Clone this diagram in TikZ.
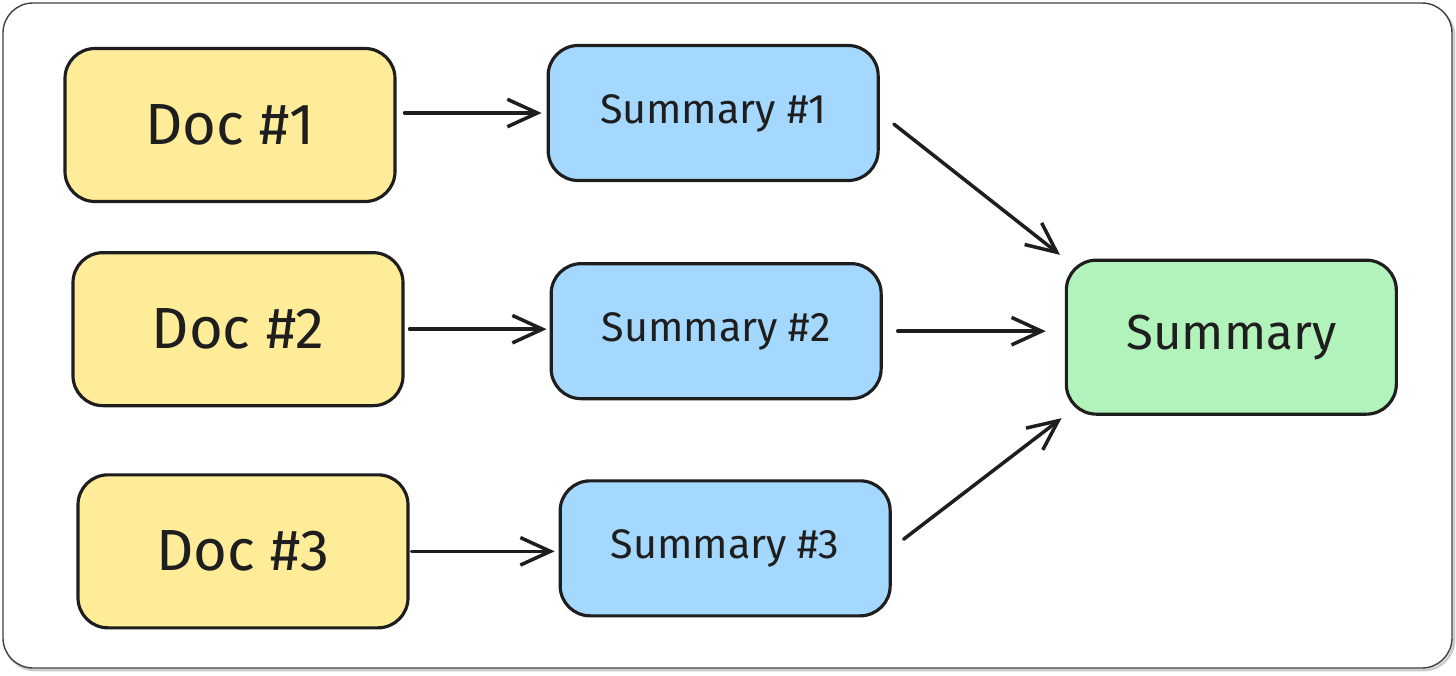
\documentclass[tikz,border=0pt]{standalone}
\usepackage{fontspec}
\setmainfont{Fira Sans}
\usepackage{tikz}
\usetikzlibrary{positioning, arrows.meta}
\definecolor{docyellow}{HTML}{FFEC99}
\definecolor{sumblue}{HTML}{A5D8FF}
\definecolor{sumgreen}{HTML}{B2F2BB}
\definecolor{ink}{HTML}{1E1E1E}
\tikzset{
	node distance=1cm and 3cm,
	box/.style= {
		rectangle,
		rounded corners=0.6cm,
		draw=ink,
		line width=1.8pt,
		text=ink,
		minimum width=6.6cm,
		inner sep=0pt
	},
	doc/.style= {
		box,
		fill=docyellow,
		minimum height=3.06cm,
		font=\fontsize{33}{38}\selectfont
	},
	partial/.style= {
		box,
		fill=sumblue,
		minimum height=2.7cm,
		font=\fontsize{23.5}{28}\selectfont
	},
	final/.style= {
		box,
		fill=sumgreen,
		minimum height=3.08cm,
		font=\fontsize{28}{32}\selectfont
	},
	flow/.style= {
		draw=ink,
		line width=2pt,
		line cap=round,
		-{Straight Barb[length=0.6cm, width=0.55cm, line width=2pt]}
	},
}

\begin{document}
\begin{tikzpicture}
		\useasboundingbox (0,0) rectangle (29.12,-13.5);
		% frame
		\draw[black!20, line width=1.5pt, rounded corners=0.6cm] (0.1,-0.12) rectangle (29.08,-13.4);
		\draw[black!75, line width=0.8pt, rounded corners=0.6cm, fill=white] (0.06,-0.06) rectangle (29.04,-13.36);
		
		\node (doc1) [doc] at (4.6,-2.5) {Doc \#1};
		\node (doc2) [doc, below=0.96cm of doc1, xshift=0.16cm] {Doc \#2};
		\node (doc3) [doc, below=1.32cm of doc2, xshift=0.1cm] {Doc \#3};
		
		\node (sum1) [partial, right=3cm of doc1, yshift=0.24cm] {Summary \#1};
		\node (sum2) [partial, right=2.9cm of doc2, yshift=-0.04cm] {Summary \#2};
		\node (sum3) [partial, right=2.98cm of doc3, yshift=0.06cm] {Summary \#3};
		
		\node (summary) [final, right=3.64cm of sum2, yshift=-0.12cm] {Summary};
		
		\draw[flow, shorten <=0.16cm, shorten >=0.1cm] (doc1.east |- sum1.west) to (sum1.west);
		\draw[flow, shorten <=0.1cm, shorten >=0.06cm] (doc2.east) to (doc2.east -| sum2.west);
		\draw[flow, shorten <=0.04cm, shorten >=0.08cm] (doc3.east) to (doc3.east -| sum3.west);
		\draw[flow, shorten <=0.36cm, shorten >=0.12cm] (sum1.east) to (summary.north west);
		\draw[flow, shorten <=0.3cm, shorten >=0.38cm] (sum2.east) to (sum2.east -| summary.west);
		\draw[flow, shorten <=0.3cm, shorten >=0.08cm] (sum3.east) to (summary.south west);
\end{tikzpicture}
\end{document}
